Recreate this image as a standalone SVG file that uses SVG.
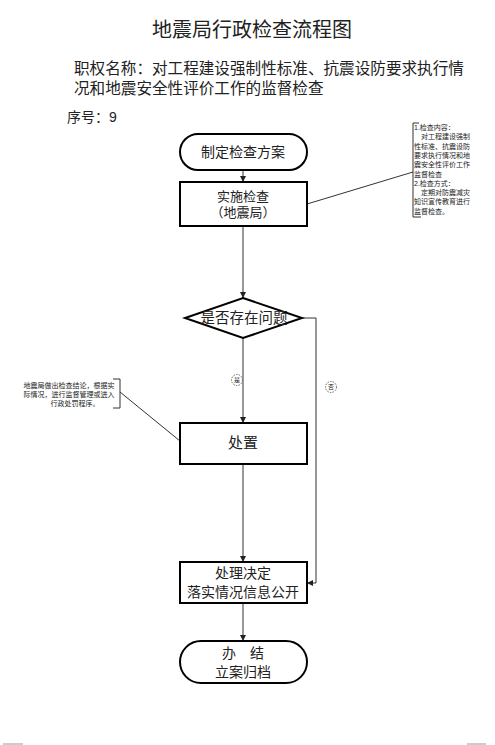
<svg xmlns="http://www.w3.org/2000/svg" width="495" height="745" viewBox="0 0 495 745">
<defs>
<style>
text{font-family:"Liberation Sans","Noto Sans CJK SC",sans-serif;fill:#222}
.node{fill:#fff;stroke:#000;stroke-width:2}
.conn{fill:none;stroke:#333;stroke-width:1}
.lbl{font-size:14px;text-anchor:middle}
.note{font-size:7px}
.tag{fill:#fff;stroke:#444;stroke-width:0.8;stroke-dasharray:1.5 1.2}
.tagt{font-size:6px;text-anchor:middle}
</style>
<marker id="arr" viewBox="0 0 10 10" refX="10" refY="5" markerWidth="6" markerHeight="6" orient="auto-start-reverse" markerUnits="userSpaceOnUse">
<path d="M0,0 L10,5 L0,10 z" fill="#222"/>
</marker>
</defs>
<rect width="495" height="745" fill="#fff"/>
<text x="252" y="37" style="font-size:20px;text-anchor:middle">地震局行政检查流程图</text>
<text x="74" y="74" style="font-size:15.6px">职权名称：对工程建设强制性标准、抗震设防要求执行情</text>
<text x="74" y="94" style="font-size:15.6px">况和地震安全性评价工作的监督检查</text>
<text x="67" y="122" style="font-size:14px">序号：9</text>

<g id="connectors">
<line class="conn" x1="243" y1="170" x2="243" y2="182" marker-end="url(#arr)"/>
<line class="conn" x1="243" y1="226" x2="243" y2="298" marker-end="url(#arr)"/>
<line class="conn" x1="243" y1="338" x2="243" y2="423" marker-end="url(#arr)"/>
<polyline class="conn" points="302,318 316,318 316,583 307,583" marker-end="url(#arr)"/>
<line class="conn" x1="243" y1="464" x2="243" y2="562" marker-end="url(#arr)"/>
<line class="conn" x1="243" y1="603" x2="243" y2="641" marker-end="url(#arr)"/>
<line class="conn" x1="307" y1="204" x2="413" y2="172"/>
<line class="conn" x1="120" y1="392" x2="180" y2="441"/>
<g id="tag-yes">
<circle class="tag" cx="237" cy="380" r="5.5"/>
<text class="tagt" x="237" y="382">是</text>
</g>
<g id="tag-no">
<circle class="tag" cx="331" cy="387" r="5.5"/>
<text class="tagt" x="331" y="389">否</text>
</g>
</g>

<g id="n-plan">
<rect class="node" x="180" y="134" width="127" height="36" rx="18"/>
<text class="lbl" x="243" y="157">制定检查方案</text>
</g>
<g id="n-inspect">
<rect class="node" x="180" y="182" width="127" height="44"/>
<text class="lbl" x="243" y="201" style="font-size:13px">实施检查</text>
<text class="lbl" x="243" y="217" style="font-size:13px">（地震局）</text>
</g>
<g id="n-decide">
<polygon class="node" points="243,298 302,318 243,338 185,318"/>
<text class="lbl" x="244" y="323" style="font-size:14.5px">是否存在问题</text>
</g>
<g id="n-handle">
<rect class="node" x="180" y="423" width="127" height="41"/>
<text class="lbl" x="243" y="448" style="font-size:15px">处置</text>
</g>
<g id="n-decision">
<rect class="node" x="180" y="562" width="127" height="41"/>
<text class="lbl" x="243" y="578">处理决定</text>
<text class="lbl" x="243" y="597">落实情况信息公开</text>
</g>
<g id="n-end">
<rect class="node" x="180" y="641" width="127" height="42" rx="21"/>
<text class="lbl" x="243" y="658">办　结</text>
<text class="lbl" x="243" y="677">立案归档</text>
</g>

<g id="note-right">
<polyline class="conn" points="419,123 413,123 413,217 421,217"/>
<text class="note" x="414" y="130">1.检查内容：</text>
<text class="note" x="414" y="139.3">　对工程建设强制</text>
<text class="note" x="414" y="148.6">性标准、抗震设防</text>
<text class="note" x="414" y="157.9">要求执行情况和地</text>
<text class="note" x="414" y="167.2">震安全性评价工作</text>
<text class="note" x="414" y="176.5">监督检查</text>
<text class="note" x="414" y="185.8">2.检查方式：</text>
<text class="note" x="414" y="195.1">　定期对防震减灾</text>
<text class="note" x="414" y="204.4">知识宣传教育进行</text>
<text class="note" x="414" y="213.7">监督检查。</text>
</g>
<g id="note-left">
<polyline class="conn" points="113,379 120,379 120,408 113,408"/>
<text class="note" x="69" y="388" style="text-anchor:middle">地震局做出检查结论，根据实</text>
<text class="note" x="69" y="397" style="text-anchor:middle">际情况，进行监督管理或进入</text>
<text class="note" x="75" y="406" style="text-anchor:middle">行政处罚程序。</text>
</g>

<line x1="3" y1="744" x2="23" y2="744" stroke="#999" stroke-width="1"/>
<line x1="467" y1="744" x2="486" y2="744" stroke="#999" stroke-width="1"/>
</svg>
